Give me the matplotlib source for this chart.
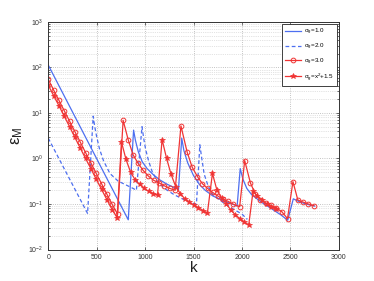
import matplotlib
matplotlib.use("Agg")
import matplotlib.pyplot as plt
from matplotlib.ticker import LogLocator, NullFormatter, MultipleLocator

# sigma_g = 1.0 (blue solid)
k_s1 = [0, 826, 881, 900, 930, 970, 1020, 1080, 1150, 1230, 1300, 1345, 1378, 1400, 1440, 1500, 1560,
        1620, 1700, 1800, 1900, 1950, 1982, 2010, 2050, 2100, 2200, 2300, 2400, 2472, 2530, 2600, 2700, 2750]
y_s1 = [113, 0.045, 4.2, 2.5, 1.4, 0.85, 0.6, 0.45, 0.34, 0.27, 0.23, 0.21, 2.8, 1.5, 0.8, 0.42, 0.27,
        0.2, 0.15, 0.12, 0.1, 0.09, 0.6, 0.35, 0.22, 0.16, 0.11, 0.08, 0.058, 0.044, 0.13, 0.11, 0.095, 0.09]

# sigma_g = 2.0 (blue dashed)
k_s2 = [0, 406, 464, 480, 500, 530, 570, 636, 720, 876, 910, 968, 985, 1005, 1035, 1075, 1125, 1200, 1300,
        1400, 1480, 1530, 1565, 1585, 1610, 1650, 1700, 1800, 1900, 2000, 2055]
y_s2 = [2.8, 0.062, 8.5, 5, 3, 1.6, 0.9, 0.47, 0.32, 0.22, 0.2, 5.0, 2.8, 1.6, 0.9, 0.5, 0.32, 0.22, 0.16,
        0.125, 0.105, 0.1, 2.0, 1.0, 0.45, 0.25, 0.16, 0.11, 0.08, 0.06, 0.046]

# sigma_g = 3.0 (red, circles)
k_s3 = [0, 55, 110, 165, 220, 275, 330, 385, 440, 495, 550, 605, 660, 716,
        773, 825, 876, 928, 979, 1034, 1090, 1146, 1200, 1255, 1310,
        1370, 1433, 1485, 1540, 1591, 1645, 1697, 1750, 1800, 1855, 1905, 1976,
        2028, 2087, 2138, 2190, 2244, 2300, 2354, 2410, 2470,
        2526, 2577, 2632, 2684, 2742]
y_s3 = [55, 32, 19, 11.2, 6.6, 3.9, 2.3, 1.35, 0.8, 0.47, 0.28, 0.165, 0.098, 0.06,
        6.9, 2.6, 1.2, 0.78, 0.55, 0.41, 0.33, 0.29, 0.25, 0.22, 0.2,
        5.2, 1.4, 0.65, 0.4, 0.28, 0.22, 0.18, 0.15, 0.13, 0.115, 0.1, 0.087,
        0.9, 0.29, 0.166, 0.125, 0.105, 0.093, 0.082, 0.068, 0.048,
        0.31, 0.122, 0.11, 0.1, 0.092]

# sigma_g = x^2 + 1.5 (red, stars)
k_s4 = [0, 55, 110, 165, 220, 275, 330, 385, 440, 495, 550, 605, 660, 711,
        756, 803, 850, 897, 944, 991, 1038, 1085, 1128,
        1175, 1222, 1268, 1316, 1363, 1410, 1457, 1504, 1550, 1597, 1643,
        1695, 1742, 1790, 1837, 1884, 1930, 1977, 2025, 2070,
        2114, 2160, 2207, 2254, 2300, 2347]
y_s4 = [41, 24, 14.5, 8.5, 5, 2.9, 1.7, 1.0, 0.6, 0.35, 0.21, 0.125, 0.075, 0.05,
        2.3, 0.95, 0.5, 0.34, 0.27, 0.22, 0.19, 0.17, 0.155,
        2.6, 1.0, 0.45, 0.24, 0.17, 0.13, 0.11, 0.095, 0.083, 0.072, 0.063,
        0.47, 0.2, 0.135, 0.1, 0.075, 0.058, 0.048, 0.04, 0.035,
        0.19, 0.15, 0.12, 0.1, 0.088, 0.078]

labels = [r'$\sigma_g$=1.0', r'$\sigma_g$=2.0', r'$\sigma_g$=3.0', r'$\sigma_g$=x$^2$+1.5']

plt.rcParams['font.family'] = ['Liberation Sans', 'DejaVu Sans']
plt.rcParams['mathtext.fontset'] = 'custom'
plt.rcParams['mathtext.rm'] = 'Liberation Sans'
plt.rcParams['mathtext.it'] = 'Liberation Sans'

fig = plt.figure(figsize=(3.74, 2.81), dpi=100)
ax = fig.add_axes([0.129, 0.112, 0.777, 0.810])

blue = '#4d6ff0'
red = '#f03434'
lw = 0.9
ax.plot(k_s1, y_s1, '-', color=blue, lw=lw, label=labels[0])
ax.plot(k_s2, y_s2, '--', color=blue, lw=lw, dashes=(3, 2), label=labels[1])
ax.plot(k_s3, y_s3, '-', color=red, lw=lw, marker='o', ms=3.4, mfc='none', mec=red, mew=0.7, label=labels[2])
ax.plot(k_s4, y_s4, '-', color=red, lw=lw, marker='*', ms=4.2, mfc=red, mec=red, mew=0.5, label=labels[3])

ax.set_yscale('log')
ax.set_xlim(0, 3000)
ax.set_ylim(1e-2, 1e3)
ax.xaxis.set_major_locator(MultipleLocator(500))
ax.yaxis.set_major_locator(LogLocator(base=10, numticks=10))
ax.yaxis.set_minor_locator(LogLocator(base=10, subs=range(2, 10), numticks=20))
ax.yaxis.set_minor_formatter(NullFormatter())

ax.grid(True, which='major', axis='both', ls=':', color='#b0b0b0', lw=0.6)
ax.grid(True, which='minor', axis='y', ls=':', color='#c8c8c8', lw=0.5)
ax.tick_params(which='both', direction='in', top=True, right=True, labelsize=5, colors='#333333', width=0.5)
ax.tick_params(which='major', length=2.5)
ax.tick_params(which='minor', length=1.3)
for s in ax.spines.values():
    s.set_linewidth(0.7)
    s.set_color('#333333')

ax.set_xlabel('k', fontsize=11, labelpad=0, color='#222222')
ax.set_ylabel(r'$\epsilon_M$', fontsize=12, labelpad=2, color='#222222')

leg = ax.legend(loc='upper right', fontsize=4.5, frameon=True, fancybox=False, edgecolor='#222222',
                framealpha=1, borderpad=0.45, handlelength=2.6, labelspacing=0.75, handletextpad=0.5,
                borderaxespad=0.3)
leg.get_frame().set_linewidth(0.6)

fig.savefig('out.png', dpi=100)
